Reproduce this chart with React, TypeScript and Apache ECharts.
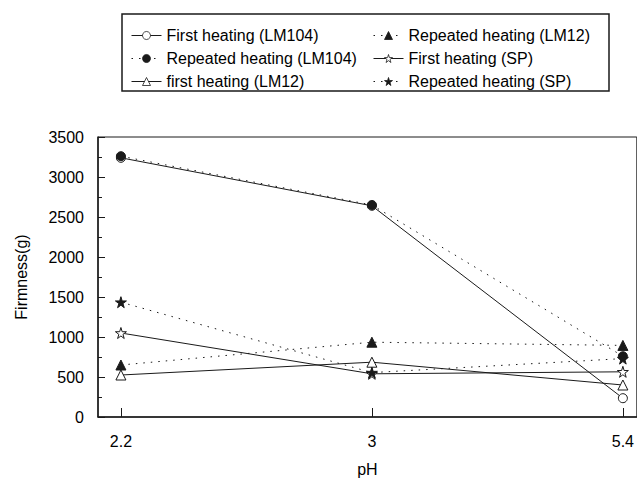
import React, { useEffect, useRef } from "react";
import * as echarts from "echarts";

const categories = ["2.2", "3", "5.4"];
const firstLM104 = [3240, 2640, 235];
const repeatedLM104 = [3260, 2650, 760];
const firstLM12 = [525, 685, 400];
const repeatedLM12 = [650, 935, 895];
const firstSP = [1050, 540, 565];
const repeatedSP = [1435, 555, 730];
const yTicks = [0, 500, 1000, 1500, 2000, 2500, 3000, 3500];

const STAR = "path://M50,0 L61,35 L98,35 L68,57 L79,91 L50,70 L21,91 L32,57 L2,35 L39,35 Z";
const FONT = "Liberation Sans, Arial, sans-serif";
const INK = "#1a1a1a";

type S = { name: string; data: number[]; symbol: string; empty: boolean; dotted: boolean; size: number };

const seriesDefs: S[] = [
  { name: "First heating (LM104)", data: firstLM104, symbol: "circle", empty: true, dotted: false, size: 9 },
  { name: "Repeated heating (LM104)", data: repeatedLM104, symbol: "circle", empty: false, dotted: true, size: 9 },
  { name: "first heating (LM12)", data: firstLM12, symbol: "triangle", empty: true, dotted: false, size: 10 },
  { name: "Repeated heating (LM12)", data: repeatedLM12, symbol: "triangle", empty: false, dotted: true, size: 10 },
  { name: "First heating (SP)", data: firstSP, symbol: STAR, empty: true, dotted: false, size: 11 },
  { name: "Repeated heating (SP)", data: repeatedSP, symbol: STAR, empty: false, dotted: true, size: 11 },
];

export default function App() {
  const ref = useRef<HTMLDivElement>(null);
  useEffect(() => {
    if (!ref.current) return;
    const chart = echarts.init(ref.current, null, { renderer: "svg" });
    const step = 252;
    const xmin = -23 / step;
    const xmax = xmin + 541 / step;
    const legendCommon = {
      orient: "vertical" as const,
      top: 22,
      itemWidth: 30,
      itemHeight: 10,
      itemGap: 6,
      selectedMode: false,
      lineStyle: { width: 1 },
      itemStyle: { borderWidth: 0.8 },
      textStyle: { fontFamily: FONT, fontSize: 16, color: "#000", lineHeight: 17 },
    };
    chart.setOption({
      animation: false,
      backgroundColor: "#fff",
      grid: {
        left: 98,
        right: -2,
        top: 137,
        bottom: 66,
        show: true,
        borderColor: INK,
        borderWidth: 1,
        backgroundColor: "transparent",
      },
      graphic: [
        {
          type: "rect",
          shape: { x: 122, y: 14, width: 487, height: 77 },
          style: { fill: "none", stroke: INK, lineWidth: 1.5 },
          silent: true,
        },
      ],
      legend: [
        { ...legendCommon, left: 126, data: seriesDefs.slice(0, 3).map((s) => s.name) },
        { ...legendCommon, left: 368, data: seriesDefs.slice(3).map((s) => s.name) },
      ],
      xAxis: {
        type: "value",
        min: xmin,
        max: xmax,
        name: "pH",
        nameLocation: "middle",
        nameGap: 44,
        nameTextStyle: { fontFamily: FONT, fontSize: 16, color: "#000" },
        axisLine: { show: true, onZero: false, lineStyle: { color: INK, width: 1.5 } },
        axisTick: { show: true, inside: true, length: 9, customValues: [0, 1, 2], lineStyle: { color: INK } },
        axisLabel: {
          customValues: [0, 1, 2],
          formatter: (v: number) => categories[Math.round(v)] ?? "",
          fontFamily: FONT,
          fontSize: 16,
          color: "#000",
          margin: 16,
        },
        splitLine: { show: false },
      },
      yAxis: {
        type: "value",
        min: 0,
        max: 3500,
        interval: 500,
        name: "Firmness(g)",
        nameLocation: "middle",
        nameGap: 69,
        nameTextStyle: { fontFamily: FONT, fontSize: 16, color: "#000" },
        axisLine: { show: true, onZero: false, lineStyle: { color: INK, width: 1.5 } },
        axisTick: { show: true, inside: true, length: 7, lineStyle: { color: INK } },
        minorTick: { show: true, splitNumber: 2, length: 4, lineStyle: { color: INK } },
        axisLabel: {
          fontFamily: FONT,
          fontSize: 16,
          color: "#000",
          margin: 14,
          formatter: (v: number) => (yTicks.includes(v) ? String(v) : ""),
        },
        splitLine: { show: false },
      },
      series: seriesDefs.map((s) => ({
        name: s.name,
        type: "line",
        data: s.data.map((v, i) => [i, v]),
        symbol: s.symbol,
        symbolSize: s.size,
        showSymbol: true,
        lineStyle: {
          color: INK,
          width: 1,
          type: s.dotted ? [1.5, 6] : "solid",
        },
        itemStyle: {
          color: s.empty ? "#fff" : INK,
          borderColor: INK,
          borderWidth: 1,
        },
        emphasis: { disabled: true },
      })),
    });
    return () => chart.dispose();
  }, []);
  return <div ref={ref} style={{ width: 637, height: 483, position: "absolute", left: 0, top: 0 }} />;
}
